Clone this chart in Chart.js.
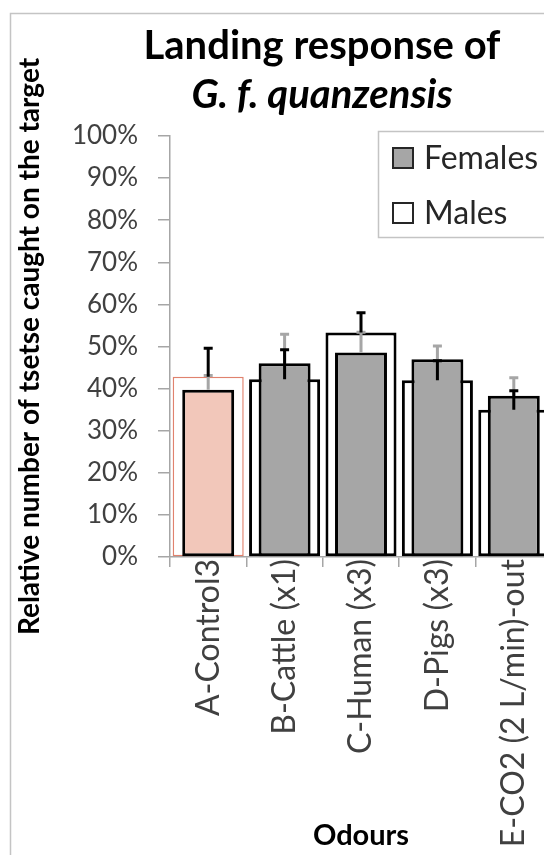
<!DOCTYPE html>
<html lang="en">
<head>
    <meta charset="UTF-8">
    <meta name="viewport" content="width=device-width, initial-scale=1.0">
    <title>Landing response of G. f. quanzensis</title>
    <script src="https://cdn.jsdelivr.net/npm/chart.js@4.4.1/dist/chart.umd.min.js"></script>
    <style>
        html, body {
            margin: 0;
            padding: 0;
            background: #fff;
            overflow: hidden;
        }
        #wrap {
            position: relative;
            width: 600px;
            height: 855px;
        }
    </style>
</head>
<body>
    <div id="wrap"><canvas id="landing" width="600" height="855"></canvas></div>
    <script>
        const odours = ['A-Control3', 'B-Cattle (x1)', 'C-Human (x3)', 'D-Pigs (x3)', 'E-CO2 (2 L/min)-out'];
        const females = [39.7, 46.0, 48.6, 47.0, 38.3];
        const femalesErr = [3.4, 6.9, 4.8, 3.1, 4.3];
        const males = [42.8, 42.2, 53.3, 42.0, 35.0];
        const malesErr = [6.8, 7.0, 4.7, 4.6, 4.5];
        const yTickValues = [0, 10, 20, 30, 40, 50, 60, 70, 80, 90, 100];

        const FONT = 'Lato';

        // control odour (A) is highlighted in the original
        const femaleFill = odours.map((o, i) => i === 0 ? '#f2c7ba' : '#a6a6a6');
        const maleBorder = odours.map((o, i) => i === 0 ? '#e0826e' : '#000');
        const maleBorderWidth = odours.map((o, i) => i === 0 ? 1.5 : 3);

        // outer chart frame + white background
        const frame = {
            id: 'frame',
            beforeDraw(chart) {
                const ctx = chart.ctx;
                ctx.save();
                ctx.fillStyle = '#fff';
                ctx.fillRect(0, 0, chart.width, chart.height);
                ctx.strokeStyle = '#c4c4c4';
                ctx.lineWidth = 1.5;
                ctx.strokeRect(10.5, 13.5, 800, 900);
                ctx.restore();
            }
        };

        // positive error bars: grey for females, black for males
        const errorBars = {
            id: 'errorBars',
            afterDatasetsDraw(chart) {
                const ctx = chart.ctx;
                const y = chart.scales.y;
                const draw = (dsIndex, errs) => {
                    const values = chart.data.datasets[dsIndex].data;
                    chart.getDatasetMeta(dsIndex).data.forEach((bar, i) => {
                        const top = y.getPixelForValue(values[i] + errs[i]);
                        ctx.beginPath();
                        ctx.moveTo(bar.x, bar.y);
                        ctx.lineTo(bar.x, top);
                        ctx.moveTo(bar.x - 4.5, top);
                        ctx.lineTo(bar.x + 4.5, top);
                        ctx.stroke();
                    });
                };
                ctx.save();
                ctx.lineWidth = 3;
                ctx.strokeStyle = '#a6a6a6';
                draw(0, femalesErr);
                ctx.strokeStyle = '#000';
                draw(1, malesErr);
                ctx.restore();
            }
        };

        // title (second line italic) and legend box
        const decorations = {
            id: 'decorations',
            afterDraw(chart) {
                const ctx = chart.ctx;
                ctx.save();
                ctx.fillStyle = '#000';
                ctx.textAlign = 'center';
                ctx.textBaseline = 'alphabetic';
                ctx.font = 'bold 40px ' + FONT;
                ctx.fillText('Landing response of', 322, 59);
                ctx.font = 'italic bold 40px ' + FONT;
                ctx.fillText('G. f. quanzensis', 322, 108);

                // legend
                ctx.strokeStyle = '#c4c4c4';
                ctx.lineWidth = 1.5;
                ctx.strokeRect(378.5, 131.5, 400, 106);
                const items = [
                    { label: chart.data.datasets[0].label, fill: '#a6a6a6', y: 158 },
                    { label: chart.data.datasets[1].label, fill: '#fff', y: 213 }
                ];
                ctx.textAlign = 'left';
                ctx.textBaseline = 'middle';
                ctx.font = '32px ' + FONT;
                items.forEach(it => {
                    ctx.fillStyle = it.fill;
                    ctx.fillRect(393, it.y - 10, 20, 20);
                    ctx.strokeStyle = '#262626';
                    ctx.lineWidth = 2;
                    ctx.strokeRect(393, it.y - 10, 20, 20);
                    ctx.fillStyle = '#262626';
                    ctx.fillText(it.label, 424, it.y + 1);
                });
                ctx.restore();
            }
        };

        const ctx = document.getElementById('landing').getContext('2d');
        new Chart(ctx, {
            type: 'bar',
            data: {
                labels: odours,
                datasets: [
                    {
                        label: 'Females',
                        data: females,
                        backgroundColor: femaleFill,
                        borderColor: '#000',
                        borderWidth: 3,
                        borderSkipped: false,
                        barPercentage: 0.68,
                        categoryPercentage: 1
                    },
                    {
                        label: 'Males',
                        data: males,
                        backgroundColor: '#fff',
                        borderColor: maleBorder,
                        borderWidth: maleBorderWidth,
                        borderSkipped: false,
                        barPercentage: 0.93,
                        categoryPercentage: 1
                    }
                ]
            },
            options: {
                responsive: false,
                animation: false,
                grouped: false,
                layout: {
                    padding: { left: 13, top: 136, right: 48, bottom: 0 }
                },
                plugins: {
                    legend: { display: false },
                    tooltip: { enabled: false }
                },
                scales: {
                    x: {
                        grid: {
                            drawOnChartArea: false,
                            tickLength: 10,
                            color: '#a6a6a6',
                            lineWidth: 1.5
                        },
                        border: { color: '#a6a6a6', width: 1.5 },
                        ticks: {
                            autoSkip: false,
                            minRotation: 90,
                            maxRotation: 90,
                            padding: -8,
                            color: '#404040',
                            font: { family: FONT, size: 32 }
                        },
                        title: {
                            display: true,
                            text: 'Odours',
                            color: '#000',
                            font: { family: FONT, size: 29, weight: 'bold' },
                            padding: { top: 0, bottom: 2 }
                        },
                        afterFit(scale) {
                            scale.height = 298;
                        }
                    },
                    y: {
                        min: 0,
                        max: 100,
                        afterBuildTicks(scale) {
                            scale.ticks = yTickValues.map(v => ({ value: v }));
                        },
                        grid: {
                            drawOnChartArea: false,
                            tickLength: 12,
                            color: '#a6a6a6',
                            lineWidth: 1.5
                        },
                        border: { color: '#a6a6a6', width: 1.5 },
                        ticks: {
                            padding: 20,
                            color: '#404040',
                            font: { family: FONT, size: 26 },
                            callback: v => v + '%'
                        },
                        title: {
                            display: true,
                            text: 'Relative number of tsetse caught on the target',
                            color: '#000',
                            font: { family: FONT, size: 28, weight: 'bold' },
                            padding: { top: 0, bottom: 0 }
                        },
                        afterFit(scale) {
                            scale.width = 170 - 13;
                        }
                    }
                }
            },
            plugins: [frame, errorBars, decorations]
        });
    </script>
</body>
</html>
